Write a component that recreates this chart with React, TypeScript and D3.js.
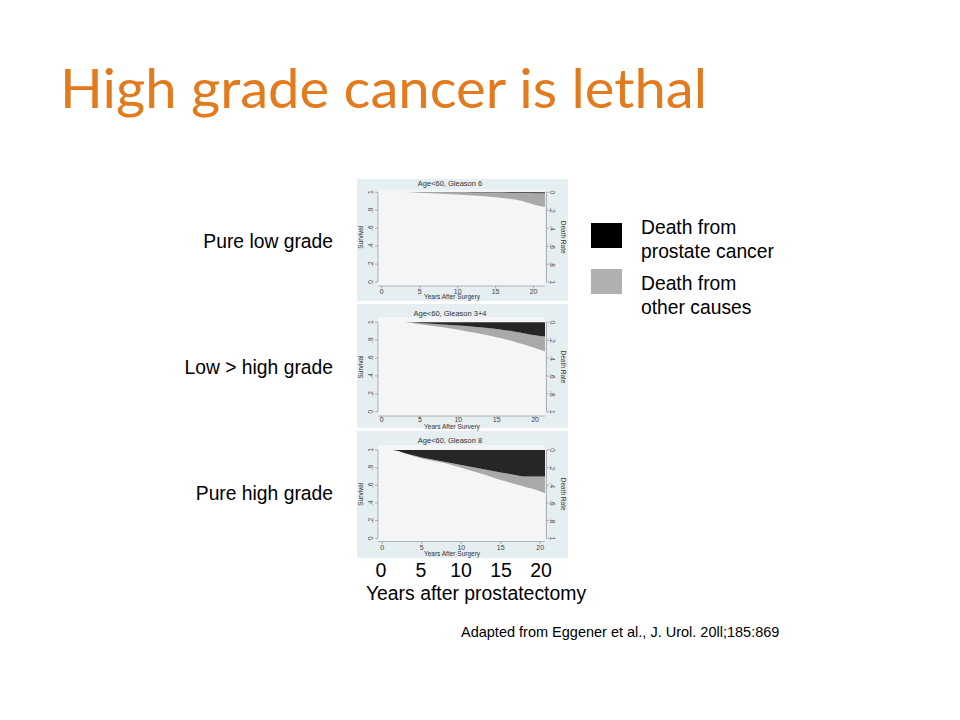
import React, { useEffect, useRef } from "react";
import * as d3 from "d3";

// ---- data ----
const panelTitles = ["Age<60, Gleason 6", "Age<60, Gleason 3+4", "Age<60, Gleason 8"];
const rowLabels = ["Pure low grade", "Low > high grade", "Pure high grade"];
const xAxisTitles = ["Years After Surgery", "Years After Survery", "Years After Surgery"];

const years1 = [0, 3, 5, 8, 10, 12, 15, 17, 18, 19, 20, 21.5];
const cancerFree1 = [1, 1, 0.999, 0.998, 0.997, 0.996, 0.994, 0.993, 0.992, 0.991, 0.99, 0.99];
const overall1 = [1, 1, 0.995, 0.985, 0.975, 0.964, 0.944, 0.925, 0.91, 0.89, 0.865, 0.835];

const years2 = [0, 3, 5, 8, 10, 12, 15, 17, 19, 20, 21.3];
const cancerFree2 = [1, 1, 0.992, 0.975, 0.963, 0.95, 0.925, 0.9, 0.87, 0.855, 0.84];
const overall2 = [1, 1, 0.978, 0.945, 0.918, 0.885, 0.832, 0.79, 0.74, 0.712, 0.672];

const years3 = [0, 1.3, 3, 5, 8, 10, 13, 15, 17, 18, 19, 20, 20.6];
const cancerFree3 = [1, 1, 0.96, 0.915, 0.865, 0.83, 0.78, 0.745, 0.715, 0.7, 0.7, 0.7, 0.7];
const overall3 = [1, 1, 0.958, 0.905, 0.85, 0.8, 0.72, 0.66, 0.61, 0.585, 0.56, 0.53, 0.51];

const panelYears = [years1, years2, years3];
const panelCancerFree = [cancerFree1, cancerFree2, cancerFree3];
const panelOverall = [overall1, overall2, overall3];
const panelXMax = [21.5, 21.3, 20.6];

const yTicks = [0, 0.2, 0.4, 0.6, 0.8, 1];
const yTickLabels = ["0", ".2", ".4", ".6", ".8", "1"];
const rateTickLabels = ["1", ".8", ".6", ".4", ".2", "0"];
const xTicks = [0, 5, 10, 15, 20];
const bottomTicks = ["0", "5", "10", "15", "20"];
const legendLabels = [["Death from", "prostate cancer"], ["Death from", "other causes"]];
const titleText = "High grade cancer is lethal";
const axisCaption = "Years after prostatectomy";
const sourceText = "Adapted from Eggener et al., J. Urol. 20ll;185:869";

// ---- layout ----
const panelGeom = [
  { bgTop: 179, bgBot: 301, plotTop: 189.5, plotBot: 286, y1: 192.3, y0: 282, x0: 381.7, titleY: 185.5, tickY: 293.5, axTitleY: 299 },
  { bgTop: 304, bgBot: 428, plotTop: 317, plotBot: 416, y1: 322.3, y0: 411.7, x0: 381.7, titleY: 315.5, tickY: 422, axTitleY: 428.5 },
  { bgTop: 431, bgBot: 558, plotTop: 445, plotBot: 541.5, y1: 450, y0: 538.3, x0: 382.3, titleY: 443, tickY: 549.5, axTitleY: 556 },
];
const BG_LEFT = 357, BG_RIGHT = 568, PLOT_LEFT = 378, PLOT_RIGHT = 545;

export default function App() {
  const ref = useRef<SVGSVGElement>(null);
  useEffect(() => {
    const svg = d3.select(ref.current);
    svg.selectAll("*").remove();
    svg.append("rect").attr("width", 960).attr("height", 720).attr("fill", "#ffffff");

    svg.append("text").attr("x", 60).attr("y", 108)
      .attr("font-family", "Lato, 'Open Sans', sans-serif").attr("font-size", 55)
      .attr("fill", "#e27a1e").attr("textLength", 647).attr("lengthAdjust", "spacingAndGlyphs")
      .text(titleText);

    const sans = "'Liberation Sans', Arial, sans-serif";

    panelGeom.forEach((g, i) => {
      const grp = svg.append("g");
      grp.append("rect").attr("x", BG_LEFT).attr("y", g.bgTop).attr("width", BG_RIGHT - BG_LEFT)
        .attr("height", g.bgBot - g.bgTop).attr("fill", "#e5eef1");
      grp.append("rect").attr("x", PLOT_LEFT).attr("y", g.plotTop).attr("width", PLOT_RIGHT - PLOT_LEFT)
        .attr("height", g.plotBot - g.plotTop).attr("fill", "#f4f5f6");

      const x = d3.scaleLinear().domain([0, panelXMax[i]]).range([g.x0, PLOT_RIGHT]);
      const y = d3.scaleLinear().domain([0, 1]).range([g.y0, g.y1]);
      const yr = panelYears[i];
      const cf = panelCancerFree[i];
      const ov = panelOverall[i];
      const pts = yr.map((t, k) => ({ t, cf: cf[k], ov: ov[k] }));

      const grayArea = d3.area<any>().x(d => x(d.t)).y0(d => y(d.ov)).y1(d => y(d.cf)).curve(d3.curveMonotoneX);
      const blackArea = d3.area<any>().x(d => x(d.t)).y0(d => y(d.cf)).y1(() => y(1)).curve(d3.curveMonotoneX);
      grp.append("path").attr("d", grayArea(pts)).attr("fill", "#a9a9a9");
      grp.append("path").attr("d", blackArea(pts)).attr("fill", "#262626");

      grp.append("text").attr("x", 450).attr("y", g.titleY).attr("text-anchor", "middle")
        .attr("font-family", sans).attr("font-size", 7.5).attr("fill", "#333").text(panelTitles[i]);

      grp.append("line").attr("x1", PLOT_LEFT).attr("x2", PLOT_LEFT).attr("y1", y(0)).attr("y2", y(1))
        .attr("stroke", "#888").attr("stroke-width", 0.6);
      yTicks.forEach((v, k) => {
        grp.append("line").attr("x1", PLOT_LEFT - 3).attr("x2", PLOT_LEFT).attr("y1", y(v)).attr("y2", y(v))
          .attr("stroke", "#888").attr("stroke-width", 0.6);
        grp.append("text").attr("transform", `translate(${PLOT_LEFT - 5},${y(v)}) rotate(-90)`)
          .attr("text-anchor", "middle").attr("font-family", sans).attr("font-size", 6.5).attr("fill", "#444")
          .text(yTickLabels[k]);
        grp.append("line").attr("x1", PLOT_RIGHT + 1.5).attr("x2", PLOT_RIGHT + 4).attr("y1", y(v)).attr("y2", y(v))
          .attr("stroke", "#888").attr("stroke-width", 0.6);
        grp.append("text").attr("transform", `translate(${PLOT_RIGHT + 5},${y(v)}) rotate(90)`)
          .attr("text-anchor", "middle").attr("font-family", sans).attr("font-size", 6.5).attr("fill", "#444")
          .text(rateTickLabels[k]);
      });
      grp.append("line").attr("x1", PLOT_RIGHT + 1.5).attr("x2", PLOT_RIGHT + 1.5).attr("y1", y(0)).attr("y2", y(1))
        .attr("stroke", "#888").attr("stroke-width", 0.6);
      grp.append("text").attr("transform", `translate(${BG_LEFT + 6},${(g.y0 + g.y1) / 2}) rotate(-90)`)
        .attr("text-anchor", "middle").attr("font-family", sans).attr("font-size", 6.5).attr("fill", "#333").text("Survival");
      grp.append("text").attr("transform", `translate(${BG_RIGHT - 7},${(g.y0 + g.y1) / 2}) rotate(90)`)
        .attr("text-anchor", "middle").attr("font-family", sans).attr("font-size", 6.5).attr("fill", "#333").text("Death Rate");

      grp.append("line").attr("x1", PLOT_LEFT).attr("x2", PLOT_RIGHT).attr("y1", g.plotBot).attr("y2", g.plotBot)
        .attr("stroke", "#888").attr("stroke-width", 0.6);
      xTicks.forEach(v => {
        grp.append("line").attr("x1", x(v)).attr("x2", x(v)).attr("y1", g.plotBot).attr("y2", g.plotBot + 2.5)
          .attr("stroke", "#888").attr("stroke-width", 0.6);
        grp.append("text").attr("x", x(v)).attr("y", g.tickY).attr("text-anchor", "middle")
          .attr("font-family", sans).attr("font-size", 7).attr("fill", "#444").text(String(v));
      });
      grp.append("text").attr("x", 452).attr("y", g.axTitleY).attr("text-anchor", "middle")
        .attr("font-family", sans).attr("font-size", 6.5).attr("fill", "#333").text(xAxisTitles[i]);

      svg.append("text").attr("x", 333).attr("y", [248, 374, 500][i]).attr("text-anchor", "end")
        .attr("font-family", sans).attr("font-size", 19.3).attr("fill", "#000").text(rowLabels[i]);
    });

    const legendColors = ["#000000", "#b0b0b0"];
    const legendBaselines = [234, 290];
    legendLabels.forEach((lines, i) => {
      const top = [223, 269][i];
      svg.append("rect").attr("x", 591).attr("y", top).attr("width", 31).attr("height", 25).attr("fill", legendColors[i]);
      lines.forEach((ln, k) => {
        svg.append("text").attr("x", 641).attr("y", legendBaselines[i] + k * 23.5)
          .attr("font-family", sans).attr("font-size", 19.3).attr("fill", "#000").text(ln);
      });
    });

    const xb = d3.scaleLinear().domain([0, 20]).range([381, 541]);
    xTicks.forEach((v, k) => {
      svg.append("text").attr("x", xb(v)).attr("y", 577).attr("text-anchor", "middle")
        .attr("font-family", sans).attr("font-size", 19.5).attr("fill", "#000").text(bottomTicks[k]);
    });
    svg.append("text").attr("x", 476).attr("y", 600).attr("text-anchor", "middle")
      .attr("font-family", sans).attr("font-size", 19.4).attr("fill", "#000").text(axisCaption);
    svg.append("text").attr("x", 461).attr("y", 637)
      .attr("font-family", sans).attr("font-size", 14.5).attr("fill", "#000").text(sourceText);
  }, []);

  return (
    <svg ref={ref} width={960} height={720}
      style={{ position: "absolute", left: 0, top: 0, display: "block" }} />
  );
}
